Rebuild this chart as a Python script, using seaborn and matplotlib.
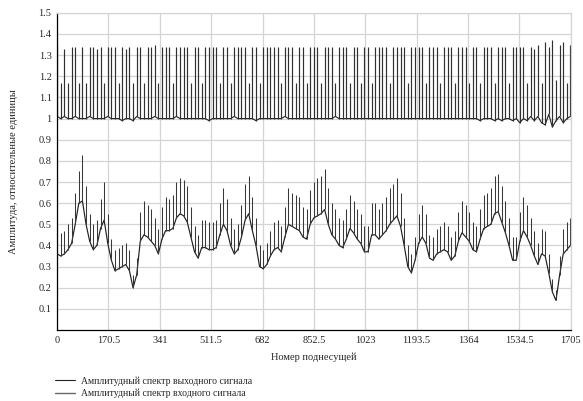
import numpy as np
import pandas as pd
import matplotlib
matplotlib.use("Agg")
import matplotlib.pyplot as plt
import seaborn as sns

# Subcarrier index of every pilot (step of 12 over 1705 carriers)
pilot_idx = np.arange(0, 1705, 12)

# Input spectrum: level between pilots and pilot peak
input_base = [
    0.36, 0.35, 0.36, 0.38, 0.41, 0.50, 0.60, 0.61, 0.50, 0.42, 0.38, 0.40,
    0.48, 0.52, 0.41, 0.33, 0.28, 0.29, 0.30, 0.31, 0.28, 0.20, 0.26, 0.42,
    0.45, 0.44, 0.42, 0.40, 0.36, 0.43, 0.47, 0.47, 0.48, 0.53, 0.55, 0.54,
    0.51, 0.44, 0.37, 0.34, 0.39, 0.39, 0.38, 0.38, 0.39, 0.45, 0.50, 0.47,
    0.40, 0.36, 0.38, 0.44, 0.52, 0.55, 0.47, 0.40, 0.30, 0.29, 0.31, 0.35,
    0.38, 0.39, 0.37, 0.44, 0.50, 0.49, 0.48, 0.47, 0.44, 0.43, 0.50, 0.53,
    0.54, 0.55, 0.57, 0.50, 0.45, 0.43, 0.40, 0.39, 0.43, 0.48, 0.46, 0.43,
    0.41, 0.37, 0.37, 0.45, 0.45, 0.43, 0.45, 0.47, 0.50, 0.52, 0.54, 0.49,
    0.40, 0.30, 0.27, 0.33, 0.41, 0.44, 0.41, 0.34, 0.33, 0.36, 0.37, 0.38,
    0.37, 0.33, 0.35, 0.42, 0.46, 0.44, 0.42, 0.38, 0.37, 0.43, 0.48, 0.49,
    0.50, 0.55, 0.56, 0.51, 0.46, 0.40, 0.33, 0.33, 0.42, 0.47, 0.44, 0.40,
    0.35, 0.31, 0.36, 0.35, 0.27, 0.18, 0.14, 0.26, 0.36, 0.38, 0.40,
]
input_peak = [
    0.48, 0.46, 0.47, 0.50, 0.53, 0.65, 0.75, 0.83, 0.68, 0.55, 0.50, 0.52,
    0.62, 0.70, 0.55, 0.43, 0.38, 0.39, 0.40, 0.41, 0.38, 0.26, 0.34, 0.56,
    0.61, 0.59, 0.57, 0.53, 0.48, 0.58, 0.63, 0.62, 0.64, 0.70, 0.72, 0.71,
    0.68, 0.58, 0.49, 0.45, 0.52, 0.52, 0.51, 0.51, 0.52, 0.60, 0.67, 0.62,
    0.53, 0.48, 0.50, 0.59, 0.69, 0.73, 0.63, 0.53, 0.40, 0.38, 0.41, 0.47,
    0.51, 0.52, 0.49, 0.58, 0.67, 0.65, 0.64, 0.63, 0.58, 0.57, 0.66, 0.70,
    0.72, 0.73, 0.76, 0.67, 0.60, 0.57, 0.53, 0.52, 0.57, 0.64, 0.61, 0.57,
    0.55, 0.49, 0.49, 0.60, 0.60, 0.57, 0.60, 0.63, 0.67, 0.69, 0.72, 0.65,
    0.53, 0.40, 0.36, 0.44, 0.55, 0.59, 0.55, 0.45, 0.44, 0.48, 0.49, 0.51,
    0.49, 0.44, 0.47, 0.56, 0.61, 0.59, 0.56, 0.51, 0.49, 0.57, 0.64, 0.65,
    0.67, 0.73, 0.74, 0.68, 0.61, 0.53, 0.44, 0.44, 0.56, 0.63, 0.59, 0.53,
    0.47, 0.41, 0.48, 0.47, 0.36, 0.24, 0.19, 0.35, 0.48, 0.51, 0.53,
]

# Output spectrum (after equalisation)
output_base = [
    1.01, 1.00, 1.01, 1.00, 1.00, 1.01, 1.00, 1.00, 1.00, 1.01, 1.00, 1.00,
    1.00, 1.00, 1.01, 1.00, 1.00, 1.00, 0.99, 1.00, 1.00, 0.99, 1.01, 1.00,
    1.00, 1.00, 1.00, 1.01, 1.00, 1.00, 1.00, 1.00, 1.00, 1.01, 1.00, 1.00,
    1.00, 1.00, 1.00, 1.00, 1.00, 1.00, 0.99, 1.00, 1.00, 1.00, 1.00, 1.00,
    1.00, 1.01, 1.00, 1.00, 1.00, 1.00, 1.00, 0.99, 1.00, 1.00, 1.00, 1.00,
    1.00, 1.00, 1.00, 1.01, 1.00, 1.00, 1.00, 1.00, 1.00, 1.00, 1.00, 1.00,
    1.00, 1.00, 1.00, 1.00, 1.00, 1.01, 1.00, 1.00, 1.00, 1.00, 1.00, 1.00,
    1.00, 1.00, 1.00, 1.00, 1.00, 1.00, 1.00, 1.00, 1.00, 1.00, 1.00, 1.00,
    1.00, 1.00, 1.00, 1.00, 1.00, 1.00, 1.00, 1.00, 1.00, 1.00, 1.00, 1.00,
    1.00, 1.00, 1.00, 1.00, 1.00, 1.00, 1.00, 1.00, 1.00, 0.99, 1.00, 1.00,
    1.00, 0.99, 1.00, 0.99, 1.00, 1.00, 0.99, 1.00, 0.98, 1.00, 0.99, 1.01,
    0.99, 1.01, 0.98, 0.97, 1.02, 0.96, 0.99, 1.01, 0.98, 1.00, 1.01,
]
output_peak = [
    1.35, 1.17, 1.33, 1.17, 1.34, 1.34, 1.17, 1.34, 1.17, 1.34, 1.34, 1.33,
    1.34, 1.17, 1.34, 1.34, 1.34, 1.17, 1.34, 1.33, 1.34, 1.17, 1.34, 1.34,
    1.17, 1.34, 1.34, 1.35, 1.17, 1.34, 1.34, 1.34, 1.17, 1.34, 1.34, 1.34,
    1.34, 1.17, 1.34, 1.34, 1.17, 1.34, 1.34, 1.34, 1.34, 1.17, 1.34, 1.34,
    1.17, 1.34, 1.34, 1.34, 1.34, 1.17, 1.34, 1.34, 1.17, 1.34, 1.34, 1.34,
    1.34, 1.34, 1.17, 1.34, 1.34, 1.34, 1.17, 1.34, 1.34, 1.17, 1.34, 1.34,
    1.34, 1.17, 1.34, 1.34, 1.34, 1.17, 1.34, 1.34, 1.34, 1.17, 1.34, 1.34,
    1.17, 1.34, 1.34, 1.17, 1.34, 1.34, 1.34, 1.34, 1.17, 1.34, 1.34, 1.34,
    1.34, 1.17, 1.34, 1.34, 1.34, 1.34, 1.17, 1.34, 1.34, 1.34, 1.17, 1.34,
    1.34, 1.34, 1.17, 1.34, 1.34, 1.34, 1.17, 1.34, 1.34, 1.17, 1.34, 1.34,
    1.34, 1.17, 1.34, 1.34, 1.34, 1.17, 1.34, 1.34, 1.34, 1.34, 1.17, 1.34,
    1.33, 1.35, 1.17, 1.36, 1.34, 1.37, 1.18, 1.35, 1.36, 1.17, 1.35,
]

x_ticks = [0, 170.5, 341, 511.5, 682, 852.5, 1023, 1193.5, 1364, 1534.5, 1705]
y_ticks = [0.1, 0.2, 0.3, 0.4, 0.5, 0.6, 0.7, 0.8, 0.9, 1, 1.1, 1.2, 1.3, 1.4, 1.5]

label_out = "Амплитудный спектр выходного сигнала"
label_in = "Амплитудный спектр входного сигнала"

df = pd.DataFrame({
    "carrier": pilot_idx,
    "in_base": input_base, "in_peak": input_peak,
    "out_base": output_base, "out_peak": output_peak,
})

sns.set_style("white")
plt.rcParams["font.family"] = ["Liberation Serif", "DejaVu Serif"]
plt.rcParams["font.size"] = 7.5

out_color = "#222222"
in_color = "#6a6a6a"

fig = plt.figure(figsize=(5.83, 4.01), dpi=100)
ax = fig.add_axes([0.098, 0.177, 0.881, 0.791])

# grid first so curves sit on top
ax.set_axisbelow(True)
ax.grid(True, color="#d4d4d4", linewidth=0.9)

sns.lineplot(data=df, x="carrier", y="out_base", color=out_color, linewidth=0.8, ax=ax,
             label=label_out)
ax.vlines(df["carrier"], df["out_base"], df["out_peak"], color="#303030", linewidth=0.85)

sns.lineplot(data=df, x="carrier", y="in_base", color="#202020", linewidth=0.85, ax=ax)
ax.vlines(df["carrier"], df["in_base"], df["in_peak"], color="#383838", linewidth=0.75)
# proxy line for the legend entry of the input spectrum
ax.plot([], [], color=in_color, linewidth=1.0, label=label_in)

ax.set_xlim(0, 1705)
ax.set_ylim(0, 1.5)
ax.set_xticks(x_ticks)
ax.set_xticklabels(["%g" % t for t in x_ticks])
ax.set_yticks(y_ticks)
ax.set_yticklabels(["%g" % t for t in y_ticks])
ax.tick_params(direction="inout", length=4, width=0.8, color="black", pad=2, labelsize=7.5)

for side in ["left", "bottom"]:
    ax.spines[side].set_color("black")
    ax.spines[side].set_linewidth(0.9)
for side in ["top", "right"]:
    ax.spines[side].set_color("#d4d4d4")
    ax.spines[side].set_linewidth(0.9)

ax.set_xlabel("Номер поднесущей", fontsize=7.5, labelpad=5.5)
ax.set_ylabel("Амплитуда, относительные единицы", fontsize=7.5, labelpad=15)

ax.get_legend().remove()
handles, labels = ax.get_legend_handles_labels()
fig.legend(handles, labels, loc="upper left", bbox_to_anchor=(0.088, 0.072),
           frameon=False, fontsize=7, handlelength=2.0, handletextpad=0.7,
           labelspacing=0.35, borderaxespad=0)

fig.savefig("out.png", dpi=100)
